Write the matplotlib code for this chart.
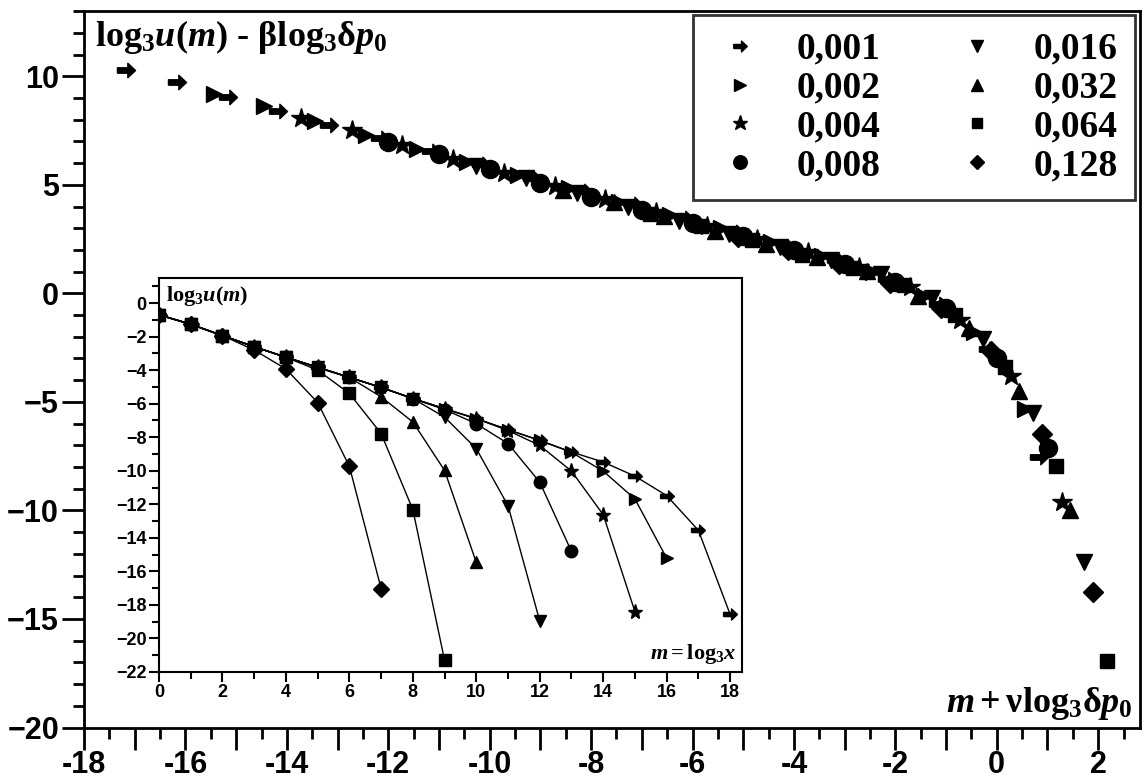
import matplotlib
matplotlib.use('Agg')
import matplotlib.pyplot as plt
import numpy as np
from matplotlib.ticker import MultipleLocator, FuncFormatter

plt.rcParams['mathtext.fontset'] = 'custom'
plt.rcParams['mathtext.rm'] = 'Liberation Serif:bold'
plt.rcParams['mathtext.it'] = 'Liberation Serif:bold:italic'
plt.rcParams['mathtext.bf'] = 'Liberation Serif:bold'

# data: log3 u(m) for each delta p0
labels = ['0,001', '0,002', '0,004', '0,008', '0,016', '0,032', '0,064', '0,128']
dp0 = [0.001, 0.002, 0.004, 0.008, 0.016, 0.032, 0.064, 0.128]
u_001 = [-0.7, -1.26, -1.94, -2.6, -3.23, -3.83, -4.43, -5.03, -5.69, -6.3,
         -6.89, -7.55, -8.19, -8.88, -9.48, -10.32, -11.48, -13.55, -18.56]
u_002 = [-0.7, -1.26, -1.94, -2.6, -3.23, -3.83, -4.43, -5.03, -5.69, -6.3,
         -6.89, -7.55, -8.19, -8.9, -10.02, -11.68, -15.21]
u_004 = [-0.7, -1.26, -1.94, -2.6, -3.23, -3.83, -4.43, -5.03, -5.69, -6.3,
         -6.89, -7.6, -8.49, -10.02, -12.62, -18.4]
u_008 = [-0.7, -1.26, -1.94, -2.6, -3.23, -3.83, -4.43, -5.03, -5.69, -6.35,
         -7.19, -8.38, -10.68, -14.81]
u_016 = [-0.7, -1.26, -1.94, -2.6, -3.23, -3.83, -4.43, -5.03, -5.69, -6.8,
         -8.68, -12.08, -18.96]
u_032 = [-0.7, -1.26, -1.94, -2.6, -3.23, -3.83, -4.43, -5.59, -7.09, -9.98,
         -15.47]
u_064 = [-0.7, -1.26, -1.94, -2.6, -3.23, -4.0, -5.39, -7.78, -12.32, -21.3]
u_128 = [-0.7, -1.26, -1.94, -2.8, -3.93, -5.93, -9.74, -17.03]
series = [u_001, u_002, u_004, u_008, u_016, u_032, u_064, u_128]

# scaling exponents used for the collapse in the main plot (from axis labels)
nu = 2.73
beta = 1.75

# arrow marker
arrow = [(-1, -0.3), (0.15, -0.3), (0.15, -0.8), (1, 0), (0.15, 0.8),
         (0.15, 0.3), (-1, 0.3), (-1, -0.3)]
markers = [arrow, '>', '*', 'o', 'v', '^', 's', 'D']
msize_main = [13, 12, 15, 13, 12, 12, 10, 10]
msize_ins = [10, 9, 11, 9, 9, 9, 8, 8]

fig = plt.figure(figsize=(11.45, 7.81), dpi=100)
ax = fig.add_axes([0.0734, 0.0685, 0.922, 0.918])

for i in range(len(series)):
    m = np.arange(len(series[i]))
    l3 = np.log(dp0[i]) / np.log(3)
    x = m + nu * l3
    y = np.array(series[i]) - beta * l3
    ax.plot(x, y, linestyle='none', marker=markers[i], ms=msize_main[i],
            color='black', label=labels[i])

ax.set_xlim(-18, 2.82)
ax.set_ylim(-20, 13.03)
ax.xaxis.set_major_locator(MultipleLocator(1))
ax.xaxis.set_minor_locator(MultipleLocator(0.5))
ax.xaxis.set_major_formatter(FuncFormatter(lambda v, p: '%d' % v if round(v) % 2 == 0 else ''))
ax.yaxis.set_major_locator(MultipleLocator(5))
ax.yaxis.set_minor_locator(MultipleLocator(1))
ax.tick_params(which='major', direction='out', length=16, width=2,
               labelsize=22, pad=2)
ax.tick_params(axis='x', which='major', pad=0)
ax.tick_params(which='minor', direction='out', length=8, width=2)
for t in ax.get_xticklabels() + ax.get_yticklabels():
    t.set_fontfamily('Liberation Sans')
    t.set_fontweight('bold')
for s in ax.spines.values():
    s.set_linewidth(2)

ax.text(0.0104, 0.99, '$\\mathrm{log}_3\\mathit{u}\\mathrm{(}\\mathit{m}\\mathrm{)\\ \u2010\\ \\beta log}_3\\mathrm{\\delta}\\mathit{p}_0$',
        transform=ax.transAxes, ha='left', va='top', fontsize=26)
ax.text(0.993, 0.008, r'$\mathit{m}+\mathrm{\nu log}_3\mathrm{\delta}\mathit{p}_0$',
        transform=ax.transAxes, ha='right', va='bottom', fontsize=26)

leg = ax.legend(ncol=2, loc='upper right', frameon=True, fancybox=False,
                edgecolor='black', markerscale=0.75, handlelength=1.6,
                handletextpad=0.72, columnspacing=1.76, labelspacing=0.1,
                borderaxespad=0.12, borderpad=0.45,
                prop={'family': 'Liberation Serif', 'weight': 'bold', 'size': 27})
leg.get_frame().set_linewidth(2)

# inset with the raw curves
ins = fig.add_axes([0.1389, 0.1396, 0.509, 0.5045])
ins.set_facecolor('white')
for i in range(len(series)):
    m = np.arange(len(series[i]))
    ins.plot(m, series[i], '-', color='black', lw=1, marker=markers[i],
             ms=msize_ins[i])
ins.set_xlim(0, 18.37)
ins.set_ylim(-22, 1.5)
ins.xaxis.set_major_locator(MultipleLocator(2))
ins.xaxis.set_minor_locator(MultipleLocator(1))
ins.yaxis.set_major_locator(MultipleLocator(2))
ins.yaxis.set_minor_locator(MultipleLocator(1))
ins.tick_params(which='major', direction='out', length=7, width=1.5,
                labelsize=13, pad=2)
ins.tick_params(which='minor', direction='out', length=5, width=1.5)
for t in ins.get_xticklabels() + ins.get_yticklabels():
    t.set_fontfamily('Liberation Sans')
    t.set_fontweight('bold')
for s in ins.spines.values():
    s.set_linewidth(1.5)
ins.text(0.012, 0.985, r'$\mathrm{log}_3\mathit{u}\mathrm{(}\mathit{m}\mathrm{)}$',
         transform=ins.transAxes, ha='left', va='top', fontsize=16)
ins.text(0.99, 0.015, r'$\mathit{m}=\mathrm{log}_3\mathit{x}$',
         transform=ins.transAxes, ha='right', va='bottom', fontsize=16)

fig.savefig('out.png', dpi=100)
